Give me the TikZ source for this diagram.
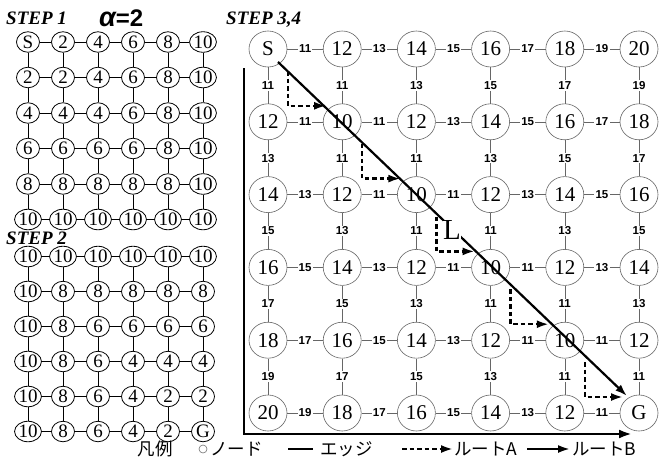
\documentclass[tikz,border=0pt]{standalone}
\usepackage{fontspec}
\setmainfont{Liberation Serif}
\newfontfamily\lblfont{Liberation Sans}
\newfontfamily\jpfont{Noto Sans CJK JP}
\usetikzlibrary{arrows.meta,calc,shapes.geometric}
\begin{document}
\begin{tikzpicture}[x=1pt,y=-1pt,
  bnode/.style={ellipse,draw=black!60,line width=0.6pt,fill=white,minimum width=38pt,minimum height=36pt,inner sep=0pt,font=\fontsize{21}{21}\selectfont},
  snode/.style={ellipse,draw=black,line width=0.8pt,fill=white,minimum width=23pt,minimum height=20.5pt,inner sep=0pt,font=\fontsize{19}{19}\selectfont},
  bedge/.style={draw=black!60,line width=0.6pt},
  sedge/.style={draw=black,line width=0.9pt},
  elbl/.style={fill=white,inner sep=1.2pt,font=\lblfont\bfseries\fontsize{11.5}{11.5}\selectfont},
  steplbl/.style={anchor=west,inner sep=0pt,font=\bfseries\itshape\fontsize{19}{19}\selectfont},
  axisline/.style={line width=2.6pt,-{Latex[length=13pt,width=9pt]}},
  routeA/.style={line width=2.3pt,dash pattern=on 4.5pt off 3pt,-{Latex[length=12pt,width=8pt]}},
  routeB/.style={line width=2.2pt,-{Latex[length=12pt,width=8pt]}},
  jp/.style={inner sep=0pt,font=\jpfont\fontsize{17.5}{17.5}\selectfont},
]
\useasboundingbox[fill=white] (0,0) rectangle (661,463);

% ---------- STEP 1 ----------
\node[steplbl] (st1) at (6,18) {STEP 1};
\node[anchor=west,inner sep=0pt] (alpha) at (99,18) {{\lblfont\bfseries\itshape\fontsize{27}{27}\selectfont α}{\lblfont\bfseries\fontsize{24}{24}\selectfont =2}};
\foreach \row [count=\j from 0] in {{S,2,4,6,8,10},{2,2,4,6,8,10},{4,4,4,6,8,10},{6,6,6,6,8,10},{8,8,8,8,8,10},{10,10,10,10,10,10}}{
  \foreach \v [count=\i from 0] in \row {
    \node[snode] (p\i\j) at (28+35*\i, 42+35.5*\j) {\v};
  }
}
\foreach \i in {0,...,4}{
  \pgfmathtruncatemacro\k{\i+1}
  \foreach \j in {0,...,5}{
    \draw[sedge] (p\i\j) -- (p\k\j);
    \draw[sedge] (p\j\i) -- (p\j\k);
  }
}

% ---------- STEP 2 ----------
\node[steplbl] (st2) at (6,238) {STEP 2};
\foreach \row [count=\j from 0] in {{10,10,10,10,10,10},{10,8,8,8,8,8},{10,8,6,6,6,6},{10,8,6,4,4,4},{10,8,6,4,2,2},{10,8,6,4,2,G}}{
  \foreach \v [count=\i from 0] in \row {
    \node[snode] (q\i\j) at (28+35*\i, 256.5+35*\j) {\v};
  }
}
\foreach \i in {0,...,4}{
  \pgfmathtruncatemacro\k{\i+1}
  \foreach \j in {0,...,5}{
    \draw[sedge] (q\i\j) -- (q\k\j);
    \draw[sedge] (q\j\i) -- (q\j\k);
  }
}

% ---------- STEP 3,4 ----------
\node[steplbl] (st3) at (226,20) {STEP 3,4};
\foreach \row [count=\j from 0] in {{S,12,14,16,18,20},{12,10,12,14,16,18},{14,12,10,12,14,16},{16,14,12,10,12,14},{18,16,14,12,10,12},{20,18,16,14,12,G}}{
  \foreach \v [count=\i from 0] in \row {
    \node[bnode] (b\i\j) at (268+74.2*\i, 49+72.8*\j) {\v};
  }
}
% horizontal edges
\foreach \row [count=\j from 0] in {{11,13,15,17,19},{11,11,13,15,17},{13,11,11,13,15},{15,13,11,11,13},{17,15,13,11,11},{19,17,15,13,11}}{
  \foreach \w [count=\i from 0] in \row {
    \pgfmathtruncatemacro\k{\i+1}
    \draw[bedge] (b\i\j) -- node[elbl]{\w} (b\k\j);
  }
}
% vertical edges
\foreach \row [count=\j from 0] in {{11,11,13,15,17,19},{13,11,11,13,15,17},{15,13,11,11,13,15},{17,15,13,11,11,13},{19,17,15,13,11,11}}{
  \foreach \w [count=\i from 0] in \row {
    \pgfmathtruncatemacro\k{\j+1}
    \draw[bedge] (b\i\j) -- node[elbl]{\w} (b\i\k);
  }
}

% axes
\coordinate (ax0) at (244,68);
\coordinate (ax1) at (244,434);
\coordinate (ax2) at (632,434);
\draw[axisline] (ax0) -- (ax1) -- (ax2);

% route B (diagonal)
\coordinate (rB0) at (278,62);
\coordinate (rB1) at (627,396);
\draw[routeB] (rB0) -- (rB1);
\node[fill=white,inner sep=0pt,font=\fontsize{29}{29}\selectfont] (Lbl) at (452,230) {L};

% route A (dashed staircase)
\foreach \a/\b in {0/1,1/2,2/3,3/4,4/5}{
  \draw[routeA] ($(b\a\a)+(20,22)$) |- ($(b\b\b)+(-16,-16)$);
}

% ---------- legend ----------
\node[jp] (lg0) at (155,449) {凡例};
\node[circle,draw=black!55,line width=0.6pt,minimum size=8pt,inner sep=0pt] (lg1) at (203,449) {};
\node[jp,anchor=west] (lg2) at (210,449) {ノード};
\coordinate (le0) at (288,449);
\coordinate (le1) at (313,449);
\draw[line width=1.1pt] (le0) -- (le1);
\node[jp,anchor=west] (lg3) at (320,449) {エッジ};
\coordinate (la0) at (402,449);
\coordinate (la1) at (453,449);
\draw[routeA] (la0) -- (la1);
\node[jp,anchor=west] (lg4) at (454,449) {ルートA};
\coordinate (lb0) at (527,449);
\coordinate (lb1) at (570,449);
\draw[routeB] (lb0) -- (lb1);
\node[jp,anchor=west] (lg5) at (572,449) {ルートB};
\end{tikzpicture}
\end{document}
